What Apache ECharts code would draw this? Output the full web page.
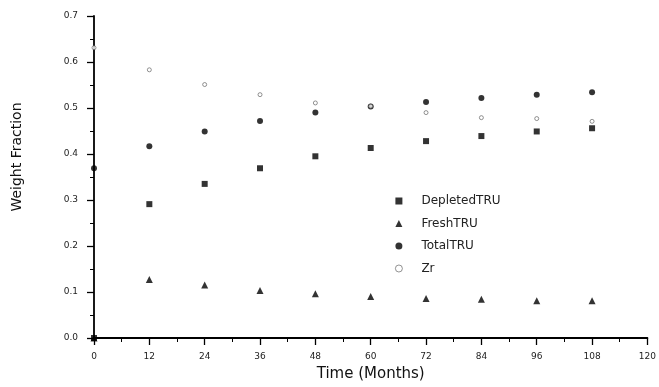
<!DOCTYPE html>
<html>
<head>
<meta charset="utf-8">
<script src="https://cdn.jsdelivr.net/npm/echarts@6/dist/echarts.min.js"></script>
<style>
  html, body { margin: 0; padding: 0; background: #fff; }
  #chart { width: 659px; height: 387px; }
</style>
</head>
<body>
<div id="chart"></div>
<script>
// Time points in months
const months = [0, 12, 24, 36, 48, 60, 72, 84, 96, 108];

// Weight fractions per component
const depletedTRU = [0.0, 0.291, 0.335, 0.369, 0.395, 0.413, 0.428, 0.439, 0.449, 0.456];
const freshTRU    = [0.0, 0.127, 0.115, 0.103, 0.096, 0.090, 0.086, 0.084, 0.081, 0.081];
const totalTRU    = [0.369, 0.417, 0.449, 0.472, 0.490, 0.503, 0.513, 0.522, 0.529, 0.534];
const zr          = [0.631, 0.583, 0.551, 0.529, 0.511, 0.504, 0.490, 0.479, 0.477, 0.471];

const seriesNames = ['DepletedTRU', 'FreshTRU', 'TotalTRU', 'Zr'];

const pairs = arr => months.map((m, i) => [m, arr[i]]);

const chart = echarts.init(document.getElementById('chart'));

const axisFont = { fontFamily: 'DejaVu Sans', fontSize: 9, color: '#222' };

chart.setOption({
  animation: false,
  backgroundColor: '#fff',
  grid: { left: 94, right: 5, top: 16, bottom: 47 },
  legend: {
    orient: 'vertical',
    left: 390,
    top: 190,
    itemGap: 10.5,
    itemWidth: 7,
    itemHeight: 7,
    data: seriesNames.map(n => n === 'Zr'
      ? { name: n, itemStyle: { borderWidth: 0.8 } }
      : n),
    textStyle: { fontFamily: 'DejaVu Sans', fontSize: 12, color: '#222', padding: [0, 0, 0, 14] }
  },
  xAxis: {
    type: 'value',
    min: 0, max: 120, interval: 12,
    name: 'Time (Months)',
    nameLocation: 'middle',
    nameGap: 29,
    nameTextStyle: { fontFamily: 'DejaVu Sans', fontSize: 15, color: '#111' },
    axisLine: { show: true, lineStyle: { color: '#000', width: 1.8 } },
    axisTick: { show: true, length: 7, lineStyle: { color: '#000', width: 1.3 } },
    minorTick: { show: true, splitNumber: 2, length: 4, lineStyle: { color: '#000', width: 1 } },
    axisLabel: Object.assign({ margin: 14 }, axisFont),
    splitLine: { show: false }
  },
  yAxis: {
    type: 'value',
    min: 0, max: 0.7, interval: 0.1,
    name: 'Weight Fraction',
    nameLocation: 'middle',
    nameGap: 70,
    nameTextStyle: { fontFamily: 'DejaVu Sans', fontSize: 14, color: '#111', padding: [0, 0, 0, 40] },
    axisLine: { show: true, lineStyle: { color: '#000', width: 1.8 } },
    axisTick: { show: true, length: 7, lineStyle: { color: '#000', width: 1.3 } },
    minorTick: { show: true, splitNumber: 2, length: 4, lineStyle: { color: '#000', width: 1 } },
    axisLabel: Object.assign({ margin: 16, formatter: v => v.toFixed(1) }, axisFont),
    splitLine: { show: false }
  },
  series: [
    {
      name: 'DepletedTRU', type: 'scatter', data: pairs(depletedTRU),
      symbol: 'rect', symbolSize: 6, itemStyle: { color: '#000' }, z: 3
    },
    {
      name: 'FreshTRU', type: 'scatter', data: pairs(freshTRU),
      symbol: 'triangle', symbolSize: 7, itemStyle: { color: '#000' }, z: 3
    },
    {
      name: 'TotalTRU', type: 'scatter', data: pairs(totalTRU),
      symbol: 'circle', symbolSize: 6, itemStyle: { color: '#000' }, z: 4
    },
    {
      name: 'Zr', type: 'scatter', data: pairs(zr),
      symbol: 'circle', symbolSize: 4,
      itemStyle: { color: '#fff', borderColor: '#555', borderWidth: 0.8 }, z: 5
    }
  ]
});
</script>
</body>
</html>
